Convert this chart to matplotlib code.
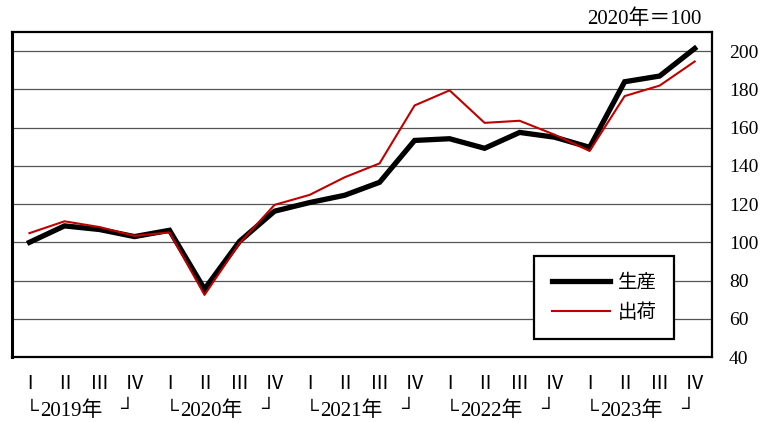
import matplotlib
matplotlib.use("Agg")
import matplotlib.pyplot as plt

plt.rcParams['font.family'] = ['Liberation Serif', 'Noto Sans CJK JP', 'DejaVu Sans']

quarters = ["Ⅰ", "Ⅱ", "Ⅲ", "Ⅳ"]
years = ["2019年", "2020年", "2021年", "2022年", "2023年"]

production = [100.0, 108.6, 106.7, 103.0, 106.3, 75.5, 100.5, 116.3,
              120.8, 124.6, 131.4, 153.3, 154.2, 149.2, 157.5, 155.0,
              149.7, 184.0, 187.0, 201.4]
shipments = [104.8, 111.0, 108.0, 103.4, 105.2, 72.5, 99.5, 119.6,
             124.8, 134.0, 141.3, 171.6, 179.5, 162.5, 163.6, 156.3,
             147.8, 176.5, 182.0, 194.6]

x = list(range(len(production)))

fig = plt.figure(figsize=(7.72, 4.22), dpi=100)
ax = fig.add_axes([0.0155, 0.154, 0.907, 0.77])

ax.plot(x, production, color="black", linewidth=3.8, label="生産", zorder=3,
        solid_joinstyle="miter")
ax.plot(x, shipments, color="#c00000", linewidth=1.5, label="出荷", zorder=4)

ax.set_xlim(-0.5, len(x) - 0.5)
ax.set_ylim(40, 210)
ax.set_yticks(range(40, 201, 20))
ax.yaxis.tick_right()
ax.tick_params(axis="y", length=0, pad=12, labelsize=14)
ax.grid(axis="y", color="#555555", linewidth=0.9)
ax.set_axisbelow(True)

ax.set_xticks(x)
ax.set_xticklabels(quarters * len(years), fontsize=14)
ax.tick_params(axis="x", length=0, pad=14)

# year brackets under each group of four quarters
xt = ax.get_xaxis_transform()
for i, yr in enumerate(years):
    ax.text(i * 4 + 0.05, -0.168, "└", transform=xt, ha="center", va="center", fontsize=14)
    ax.text(i * 4 + 0.3, -0.168, yr, transform=xt, ha="left", va="center", fontsize=15)
    ax.text(i * 4 + 2.8, -0.163, "┘", transform=xt, ha="center", va="center", fontsize=14)

for side in ["top", "right", "bottom"]:
    ax.spines[side].set_linewidth(1.6)
ax.spines["left"].set_linewidth(2.2)

ax.text(0.985, 1.04, "2020年＝100", transform=ax.transAxes, ha="right",
        va="center", fontsize=15)

leg = ax.legend(loc="lower right", bbox_to_anchor=(0.946, 0.055), fontsize=14,
                fancybox=False, edgecolor="black", framealpha=1,
                handlelength=3.0, borderpad=0.9, labelspacing=0.6,
                handletextpad=0.4, borderaxespad=0)
leg.get_frame().set_linewidth(1.6)

fig.savefig("out.png", dpi=100)
